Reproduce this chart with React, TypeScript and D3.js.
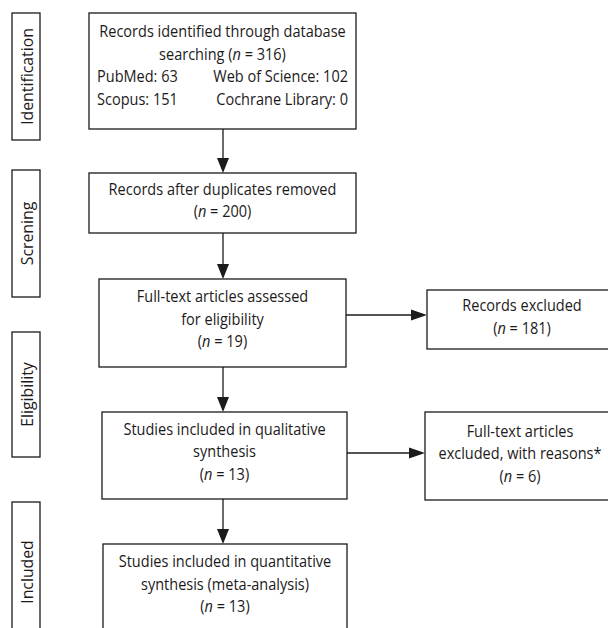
import { useEffect, useRef } from 'react'
import * as d3 from 'd3'

// PRISMA flow: phase labels, step texts and counts
const stageLabels = ['Identification', 'Screning', 'Eligibility', 'Included']
const sourceNames = ['PubMed', 'Web of Science', 'Scopus', 'Cochrane Library']
const sourceCounts = [63, 102, 151, 0]
const stepTitles = [
  ['Records identified through database', 'searching'],
  ['Records after duplicates removed'],
  ['Full-text articles assessed', 'for eligibility'],
  ['Studies included in qualitative', 'synthesis'],
  ['Studies included in quantitative', 'synthesis (meta-analysis)'],
]
const stepCounts = [316, 200, 19, 13, 13]
const exclusionTitles = [['Records excluded'], ['Full-text articles', 'excluded, with reasons*']]
const exclusionCounts = [181, 6]
// which step each exclusion box branches from
const exclusionFrom = [2, 3]

// layout (px)
const W = 608
const H = 628
const stageBoxes = [
  { x: 12, y: 13, w: 28, h: 127 },
  { x: 12, y: 170, w: 28, h: 127 },
  { x: 12, y: 332, w: 28, h: 125 },
  { x: 12, y: 502, w: 28, h: 140 },
]
const stepBoxes = [
  { x: 89, y: 13, w: 267, h: 116 },
  { x: 89, y: 173, w: 267, h: 60 },
  { x: 99, y: 279, w: 247, h: 88 },
  { x: 102, y: 412, w: 245, h: 87 },
  { x: 103, y: 544, w: 244, h: 88 },
]
const exclusionBoxes = [
  { x: 427, y: 290, w: 190, h: 59 },
  { x: 425, y: 412, w: 192, h: 88 },
]
const arrowX = 223
const font = "'Open Sans', 'Noto Sans', sans-serif"
const fontSize = 16.5
const squeeze = 0.88 // narrow the glyphs, the source uses a condensed face
const lineH = 22.5
const ink = '#1c1a1a'

type Seg = { t: string; i?: boolean }

const nSegs = (count: number): Seg[] => [
  { t: '(' },
  { t: 'n', i: true },
  { t: ' = ' + count + ')' },
]

export default function App() {
  const ref = useRef<SVGSVGElement>(null)

  useEffect(() => {
    const svg = d3.select(ref.current)
    svg.selectAll('*').remove()

    const g = svg.append('g').style('font-family', font).style('font-size', fontSize + 'px')

    const rect = (b: { x: number; y: number; w: number; h: number }) =>
      g
        .append('rect')
        .attr('x', b.x)
        .attr('y', b.y)
        .attr('width', b.w)
        .attr('height', b.h)
        .attr('fill', 'white')
        .attr('stroke', ink)
        .attr('stroke-width', 1.3)

    const writeLine = (segs: Seg[], x: number, y: number, anchor = 'middle', rot = 0, sx = squeeze) => {
      const t = g
        .append('text')
        .attr('transform', `translate(${x},${y}) rotate(${rot}) scale(${sx},1)`)
        .attr('text-anchor', anchor)
        .attr('fill', ink)
      segs.forEach((s) => {
        t.append('tspan')
          .text(s.t)
          .style('font-style', s.i ? 'italic' : 'normal')
      })
      return t
    }

    const baselines = (b: { y: number; h: number }, n: number, shift = 3) => {
      const cy = b.y + b.h / 2
      return d3.range(n).map((i) => cy + (i - (n - 1) / 2) * lineH + shift)
    }

    // phase labels on the left
    stageBoxes.forEach((b, i) => {
      rect(b)
      writeLine([{ t: stageLabels[i] }], b.x + b.w / 2 + 6.5, b.y + b.h / 2, 'middle', -90, 0.93).style(
        'font-size',
        '17px'
      )
    })

    // main column
    stepBoxes.forEach((b, i) => {
      rect(b)
      const cx = b.x + b.w / 2
      if (i === 0) {
        const ys = baselines(b, 4, 0)
        writeLine([{ t: stepTitles[0][0] }], cx, ys[0])
        writeLine([{ t: stepTitles[0][1] + ' ' }, ...nSegs(stepCounts[0])], cx, ys[1])
        const lx = b.x + 8
        const rx = b.x + b.w - 8
        for (let r = 0; r < 2; r++) {
          writeLine([{ t: `${sourceNames[r * 2]}: ${sourceCounts[r * 2]}` }], lx, ys[2 + r], 'start')
          writeLine([{ t: `${sourceNames[r * 2 + 1]}: ${sourceCounts[r * 2 + 1]}` }], rx, ys[2 + r], 'end')
        }
      } else {
        const lines: Seg[][] = [...stepTitles[i].map((t) => [{ t }]), nSegs(stepCounts[i])]
        const ys = baselines(b, lines.length, i === 1 ? 3 : 1.5)
        lines.forEach((l, k) => writeLine(l, cx, ys[k]))
      }
    })

    // exclusion boxes
    exclusionBoxes.forEach((b, i) => {
      rect(b)
      const cx = b.x + 95
      const lines: Seg[][] = [...exclusionTitles[i].map((t) => [{ t }]), nSegs(exclusionCounts[i])]
      const ys = baselines(b, lines.length)
      lines.forEach((l, k) => writeLine(l, cx, ys[k]))
    })

    // arrows
    const head = (x: number, y: number, dir: 'down' | 'right') => {
      const p =
        dir === 'down'
          ? [[x - 6, y - 15], [x + 6, y - 15], [x, y]]
          : [[x - 16, y - 5.5], [x - 16, y + 5.5], [x, y]]
      g.append('path')
        .attr('d', d3.line()(p as [number, number][]) + 'Z')
        .attr('fill', ink)
    }
    const line = (x1: number, y1: number, x2: number, y2: number) =>
      g
        .append('line')
        .attr('x1', x1)
        .attr('y1', y1)
        .attr('x2', x2)
        .attr('y2', y2)
        .attr('stroke', ink)
        .attr('stroke-width', 1.3)

    for (let i = 0; i < stepBoxes.length - 1; i++) {
      const a = stepBoxes[i]
      const b = stepBoxes[i + 1]
      line(arrowX, a.y + a.h, arrowX, b.y - 10)
      head(arrowX, b.y, 'down')
    }
    exclusionBoxes.forEach((b, i) => {
      const s = stepBoxes[exclusionFrom[i]]
      const y = i === 0 ? 315 : 453
      line(s.x + s.w, y, b.x - 10, y)
      head(b.x, y, 'right')
    })
  }, [])

  return (
    <svg
      ref={ref}
      width={W}
      height={H}
      style={{ position: 'fixed', left: 0, top: 0, background: 'white' }}
    />
  )
}
